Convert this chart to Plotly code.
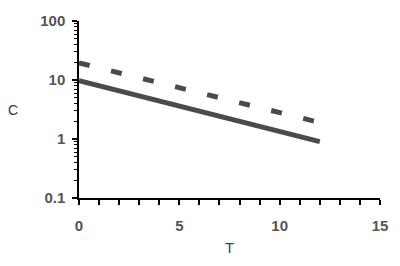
import plotly.graph_objects as go

t_vals = [0, 12]
c_solid = [9.7, 0.9]
c_dashed = [19.5, 1.9]

x_ticks = [0, 5, 10, 15]
y_ticks = [0.1, 1, 10, 100]
y_tick_text = ["0.1", "1", "10", "100"]
y_minor = [m * 10 ** e for e in range(-1, 2) for m in range(2, 10)]

line_color = "#4a4a4f"

fig = go.Figure()
fig.add_trace(go.Scatter(x=t_vals, y=c_solid, mode="lines",
                         line=dict(color=line_color, width=5), showlegend=False))
fig.add_trace(go.Scatter(x=t_vals, y=c_dashed, mode="lines",
                         line=dict(color=line_color, width=5, dash="11px,22px"), showlegend=False))

font_tick = dict(family="Liberation Sans, Arial", size=15, color="#555555", weight="bold")

fig.update_layout(
    width=400, height=266,
    margin=dict(l=79, r=20, t=12, b=65),
    plot_bgcolor="white", paper_bgcolor="white",
    xaxis=dict(range=[0, 15], tickvals=x_ticks, ticks="outside", ticklen=5,
               tickwidth=1.5, tickcolor="black", ticklabelstandoff=8,
               showline=True, linecolor="black", linewidth=1.5, showgrid=False,
               zeroline=False, tickfont=font_tick,
               minor=dict(dtick=1, ticks="outside", ticklen=5, tickwidth=1.5, tickcolor="black", showgrid=False),
               title=dict(text="T", font=dict(family="Liberation Sans, Arial", size=15, color="#444444"), standoff=10)),
    yaxis=dict(type="log", range=[-1, 2], tickvals=y_ticks, ticktext=y_tick_text,
               ticks="outside", ticklen=5, tickwidth=1.5, tickcolor="black", ticklabelstandoff=4,
               showline=True, linecolor="black", linewidth=1.5, showgrid=False,
               zeroline=False, tickfont=font_tick,
               minor=dict(tickvals=y_minor, ticks="outside", ticklen=3, tickwidth=1.2, tickcolor="black", showgrid=False)),
    font=dict(family="Liberation Sans, Arial"),
)
fig.add_annotation(text="C", xref="paper", yref="paper", x=-0.22, y=0.5,
                   showarrow=False, font=dict(family="Liberation Sans, Arial", size=14, color="#333333"),
                   xanchor="center", yanchor="middle")

fig.write_html("out.html")
